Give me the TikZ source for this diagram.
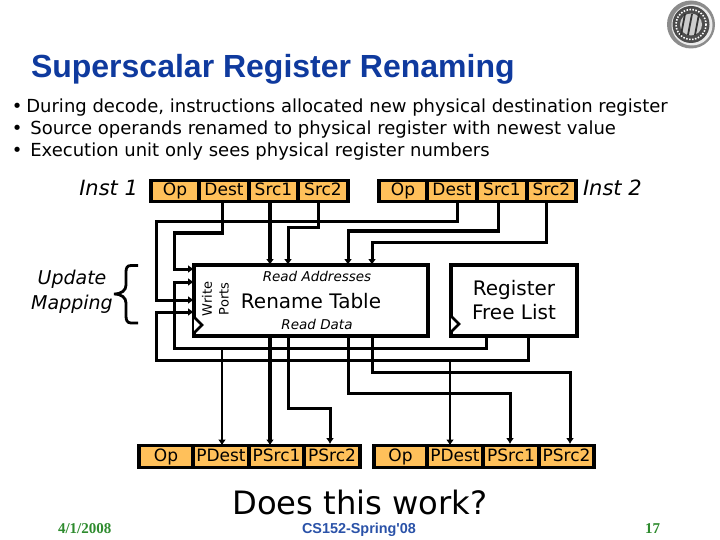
\documentclass[tikz,border=0pt]{standalone}
\usepackage{fontspec}
\setmainfont{DejaVu Sans}
\newfontfamily\titlefont{Liberation Sans}
\newfontfamily\datefont{Liberation Serif}
\usepackage{tikz}
\definecolor{fieldbg}{HTML}{FFC05A}
\definecolor{titleblue}{HTML}{0F3A9E}
\definecolor{coursegray}{HTML}{2A52A8}
\definecolor{dategreen}{HTML}{2E8B2E}
\usetikzlibrary{arrows.meta, positioning}
\newcommand{\fsize}[1]{\fontsize{#1}{#1}\selectfont}
\tikzset{
	field/.style={draw=black, fill=fieldbg, line width=3.2pt, inner sep=0pt, outer sep=0pt,
		minimum height=21.5pt, text height=12.5pt, text depth=3pt, font=\fsize{17}},
	unitbox/.style={draw=black, line width=3.4pt, inner sep=0pt, outer sep=0pt, align=center},
	lbl/.style={inner sep=0pt, outer sep=0pt, align=center},
	line/.style={lbl, anchor=base west, font=\fsize{18}},
	wire/.style={line width=3pt, draw=black},
	bus/.style={wire, line width=4.2pt},
	feed/.style={wire, line width=2.4pt},
	tip/.style={-{Latex[length=6pt, width=8pt]}},
	clockmark/.style={draw=black, fill=white, line width=2.6pt}
}

\begin{document}
\begin{tikzpicture}[x=1pt, y=-1pt]
	\useasboundingbox (0,0) rectangle (720,540);

	\node[lbl, anchor=base west, font=\fsize{32}\titlefont\bfseries, text=titleblue] (title) at (31,78) {Superscalar Register Renaming};
	\node[line] (b1) at (12,113) {•\hspace{-2pt} During decode, instructions allocated new physical destination register};
	\node[line] (b2) at (12,135) {•\hspace{2pt} Source operands renamed to physical register with newest value};
	\node[line] (b3) at (12,157) {•\hspace{2pt} Execution unit only sees physical register numbers};

	\node[lbl, font=\fsize{21}\itshape, anchor=base east] (inst1) at (138,196) {Inst 1};
	\node[lbl, font=\fsize{21}\itshape, anchor=base west] (inst2) at (583,196) {Inst 2};
	\node[lbl, font=\fsize{19}\itshape] (update) at (72,292) {Update\\[6pt]Mapping};

	\node[field, anchor=west, minimum width=48pt] (op1) at (151,191) {Op};
	\node[field, right=0pt of op1, minimum width=50pt] (dest1) {Dest};
	\node[field, right=0pt of dest1, minimum width=49pt] (srca1) {Src1};
	\node[field, right=0pt of srca1, minimum width=50pt] (srcb1) {Src2};

	\node[field, anchor=west, minimum width=48pt] (op2) at (379,191) {Op};
	\node[field, right=0pt of op2, minimum width=50pt] (dest2) {Dest};
	\node[field, right=0pt of dest2, minimum width=50pt] (srca2) {Src1};
	\node[field, right=0pt of srca2, minimum width=49pt] (srcb2) {Src2};

	\node[unitbox, anchor=north west, minimum width=234pt, minimum height=71pt] (rename) at (194,265) {};
	\node[unitbox, anchor=north west, minimum width=126pt, minimum height=71pt, font=\fsize{20}] (free) at (451,265) {Register\\[4pt]Free List};

	\node[lbl, font=\fsize{13.5}\itshape] (addr) at (317,276) {Read Addresses};
	\node[lbl, font=\fsize{20}] (table) at (311,301) {Rename Table};
	\node[lbl, font=\fsize{13.5}\itshape] (data) at (317,324) {Read Data};
	\node[lbl, font=\fsize{13}, rotate=90] (write) at (207,299) {Write};
	\node[lbl, font=\fsize{13}, rotate=90] (ports) at (224,299) {Ports};

	\node[field, anchor=west, minimum width=54pt, minimum height=22pt] (pop1) at (139,456.5) {Op};
	\node[field, right=0pt of pop1, minimum width=56pt, minimum height=22pt] (pdest1) {PDest};
	\node[field, right=0pt of pdest1, minimum width=55pt, minimum height=22pt] (psrca1) {PSrc1};
	\node[field, right=0pt of psrca1, minimum width=56pt, minimum height=22pt] (psrcb1) {PSrc2};

	\node[field, anchor=west, minimum width=53pt, minimum height=22pt] (pop2) at (374,456.5) {Op};
	\node[field, right=0pt of pop2, minimum width=56pt, minimum height=22pt] (pdest2) {PDest};
	\node[field, right=0pt of pdest2, minimum width=56pt, minimum height=22pt] (psrca2) {PSrc1};
	\node[field, right=0pt of psrca2, minimum width=55pt, minimum height=22pt] (psrcb2) {PSrc2};

	\coordinate (ra) at (270,300);
	\coordinate (rb) at (288,300);
	\coordinate (rc) at (348,300);
	\coordinate (rd) at (372,300);
	\coordinate (wa) at (194,269);
	\coordinate (wb) at (194,282);
	\coordinate (wc) at (194,300);
	\coordinate (wd) at (194,312);
	\coordinate (fa) at (486,336);
	\coordinate (fb) at (528,336);
	\coordinate (ja) at (222,348);
	\coordinate (jb) at (450,360);

	\draw[wire, tip] ([xshift=-2pt]dest1.south) |- (174,233) |- (wa);
	\draw[wire, tip] ([xshift=5pt]dest2.south) |- (156,222) |- (wc);
	\draw[bus, tip] (ra |- srca1.south) -- (ra |- rename.north);
	\draw[wire, tip] ([xshift=-5pt]srcb1.south) |- (288,228) -- (rb |- rename.north);
	\draw[wire, tip] ([xshift=-4pt]srca2.south) |- (348,231) -- (rc |- rename.north);
	\draw[wire, tip] ([xshift=-5.5pt]srcb2.south) |- (372,242) -- (rd |- rename.north);
	\draw[wire, tip] (fa) |- (174,348) |- (wb);
	\draw[wire, tip] (fb) |- (156,360) |- (wd);
	\draw[bus, tip] (ra |- rename.south) -- (ra |- psrca1.north);
	\draw[wire, tip] (rb |- rename.south) |- (330,408) -- (330,444);
	\draw[wire, tip] (rc |- rename.south) |- (510,393) -- (510,444);
	\draw[wire, tip] (rd |- rename.south) |- (570,372) -- (570,444);
	\draw[feed, tip] (ja) -- (ja |- pdest1.north);
	\draw[feed, tip] (jb) -- (jb |- pdest2.north);

	\draw[clockmark] (194,317) -- ++(8,8) -- ++(-8,8);
	\draw[clockmark] (451,316) -- ++(8,8) -- ++(-8,8);

	\draw[line width=2.8pt] (138,265.5) -- (131,265.5) .. controls (127,265.5) and (126,268) .. (126,272) -- (126,285)
		.. controls (126,290) and (122,294) .. (114,294) .. controls (122,294) and (126,298) .. (126,303) -- (126,316)
		.. controls (126,320) and (127,323) .. (131,323) -- (138,323);

	\node[lbl, anchor=base, font=\fsize{32.2}] (work) at (360,514.5) {Does this work?};
	\node[lbl, anchor=base west, font=\fsize{15}\datefont\bfseries, text=dategreen] (date) at (58,533.5) {4/1/2008};
	\node[lbl, anchor=base, font=\fsize{14.4}\titlefont\bfseries, text=coursegray] (course) at (359,533.5) {CS152-Spring'08};
	\node[lbl, anchor=base east, font=\fsize{15}\datefont\bfseries, text=dategreen] (page) at (660,533.5) {17};

	\fill[black!45] (691,24.5) circle (24);
	\fill[black!8] (692,25) circle (20.5);
	\fill[black!70] (691,24.5) circle (18.5);
	\draw[white, line width=1.6pt, dash pattern=on 1.5pt off 1.5pt] (691,24.5) circle (15);
	\fill[black!20] (691,24.5) circle (11);
	\draw[black!80, line width=1.8pt] (685,14) -- (681,35) (692,14) -- (688,35) (699,14) -- (695,35);
\end{tikzpicture}
\end{document}
